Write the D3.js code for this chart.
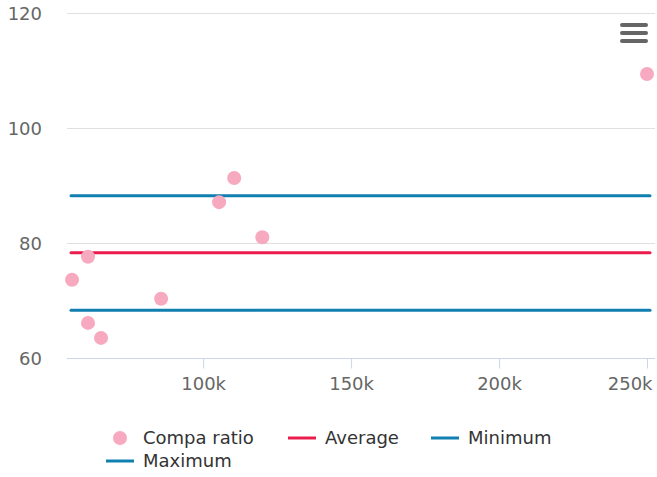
<!DOCTYPE html>
<html>
<head>
<meta charset="utf-8">
<script src="https://cdn.jsdelivr.net/npm/d3@7"></script>
<style>
  body { margin: 0; background: #fff; }
  text { font-family: "DejaVu Sans", sans-serif; }
</style>
</head>
<body>
<script>
// data
var salary = [55700, 61100, 61100, 65500, 85800, 105400, 110500, 120000, 250000];
var compa = [73.6, 77.6, 66.1, 63.5, 70.3, 87.1, 91.3, 81.0, 109.4];
var avgLine = 78.3;
var minLine = 68.3;
var maxLine = 88.2;
var yTicks = [60, 80, 100, 120];
var xTicks = [100000, 150000, 200000, 250000];
var legendNames = ["Compa ratio", "Average", "Minimum", "Maximum"];

var width = 657, height = 477;

var svg = d3.select("body").append("svg")
	.attr("width", width)
	.attr("height", height);

var x = d3.scaleLinear().domain([54000, 252700]).range([67, 655]);
var y = d3.scaleLinear().domain([60, 120]).range([358, 13]);

// gridlines
svg.selectAll("line.grid")
	.data(yTicks.slice(1))
	.enter()
	.append("line")
	.attr("x1", 67)
	.attr("x2", 655)
	.attr("y1", function(d){return y(d) + 0.5;})
	.attr("y2", function(d){return y(d) + 0.5;})
	.attr("stroke", "#e0e0e0")
	.attr("stroke-width", 1.2);

// y labels
svg.selectAll("text.ylab")
	.data(yTicks)
	.enter()
	.append("text")
	.attr("x", 42)
	.attr("y", function(d){return y(d) + 7;})
	.attr("text-anchor", "end")
	.attr("font-size", 18)
	.attr("fill", "#666")
	.text(function(d){return d;});

// x axis
var xAxis = d3.axisBottom(x)
	.tickValues(xTicks)
	.tickSize(10)
	.tickFormat(function(d){return (d / 1000) + "k";});

var gx = svg.append("g")
	.attr("transform", "translate(0,358.5)")
	.call(xAxis);
gx.select(".domain").attr("stroke", "#ccd6eb").attr("d", "M67,0H655");
gx.selectAll(".tick line").attr("stroke", "#ccd6eb");
gx.selectAll(".tick text")
	.attr("font-family", "DejaVu Sans, sans-serif")
	.attr("font-size", 18)
	.attr("fill", "#666")
	.attr("dy", null)
	.attr("y", 31);
// last label is pushed in so it stays inside the chart
gx.selectAll(".tick text")
	.filter(function(d){return d == xTicks[xTicks.length - 1];})
	.attr("text-anchor", "end")
	.attr("x", 652 - x(xTicks[xTicks.length - 1]));

// reference lines
var refLines = [
	{v: maxLine, c: "#117fb0"},
	{v: avgLine, c: "#ea1c4e"},
	{v: minLine, c: "#117fb0"}
];
svg.selectAll("line.ref")
	.data(refLines)
	.enter()
	.append("line")
	.attr("x1", x(salary[0]) - 1)
	.attr("x2", x(salary[salary.length - 1]) + 3)
	.attr("y1", function(d){return y(d.v);})
	.attr("y2", function(d){return y(d.v);})
	.attr("stroke", function(d){return d.c;})
	.attr("stroke-width", 3)
	.attr("stroke-linecap", "round");

// points
svg.selectAll("circle.pt")
	.data(salary)
	.enter()
	.append("circle")
	.attr("cx", function(d){return x(d);})
	.attr("cy", function(d, i){return y(compa[i]);})
	.attr("r", 7)
	.attr("fill", "#f7aabf");

// legend
var legend = [
	{name: legendNames[0], x: 120, y: 438, type: "dot", c: "#f7aabf"},
	{name: legendNames[1], x: 302, y: 438, type: "line", c: "#ea1c4e"},
	{name: legendNames[2], x: 445, y: 438, type: "line", c: "#117fb0"},
	{name: legendNames[3], x: 120, y: 461, type: "line", c: "#117fb0"}
];
var lg = svg.selectAll("g.leg")
	.data(legend)
	.enter()
	.append("g")
	.attr("transform", function(d){return "translate(" + d.x + "," + d.y + ")";});

lg.filter(function(d){return d.type == "dot";})
	.append("circle")
	.attr("r", 7)
	.attr("fill", function(d){return d.c;});
lg.filter(function(d){return d.type == "line";})
	.append("line")
	.attr("x1", -14)
	.attr("x2", 14)
	.attr("stroke", function(d){return d.c;})
	.attr("stroke-width", 3);
lg.append("text")
	.attr("x", 23)
	.attr("y", 6)
	.attr("font-size", 18)
	.attr("fill", "#333")
	.text(function(d){return d.name;});

// menu icon
var menu = svg.append("g");
[0, 1, 2].forEach(function(i){
	menu.append("line")
		.attr("x1", 622)
		.attr("x2", 646)
		.attr("y1", 25 + i * 8)
		.attr("y2", 25 + i * 8)
		.attr("stroke", "#666")
		.attr("stroke-width", 4)
		.attr("stroke-linecap", "round");
});
</script>
</body>
</html>
